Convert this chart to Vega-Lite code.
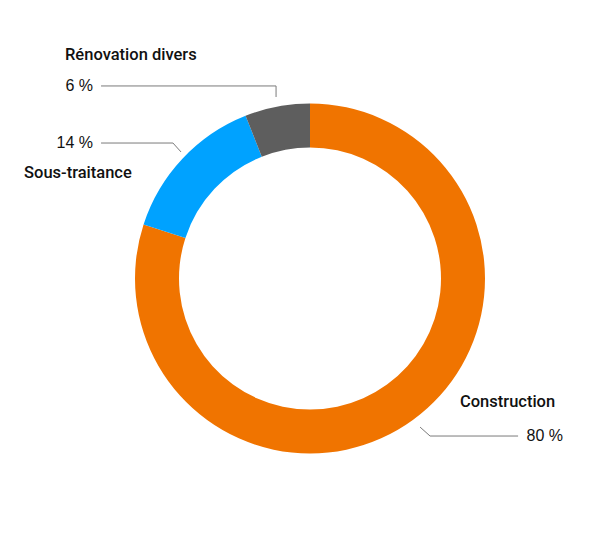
{
  "$schema": "https://vega.github.io/schema/vega-lite/v6.json",
  "width": 580,
  "height": 509,
  "padding": {"left": 20, "top": 24, "right": 0, "bottom": 0},
  "autosize": {"type": "none"},
  "background": "white",
  "config": {"view": {"stroke": null}},
  "datasets": {
    "shares": [
      {"category": "Construction", "share": 80, "rank": 1},
      {"category": "Sous-traitance", "share": 14, "rank": 2},
      {"category": "Rénovation divers", "share": 6, "rank": 3}
    ],
    "leaders": [
      {"category": "Rénovation divers", "step": 1, "x": -1.194, "y": 1.1},
      {"category": "Rénovation divers", "step": 2, "x": -0.194, "y": 1.1},
      {"category": "Rénovation divers", "step": 3, "x": -0.194, "y": 1.037},
      {"category": "Sous-traitance", "step": 1, "x": -1.194, "y": 0.774},
      {"category": "Sous-traitance", "step": 2, "x": -0.783, "y": 0.774},
      {"category": "Sous-traitance", "step": 3, "x": -0.737, "y": 0.723},
      {"category": "Construction", "step": 1, "x": 0.629, "y": -0.849},
      {"category": "Construction", "step": 2, "x": 0.686, "y": -0.9},
      {"category": "Construction", "step": 3, "x": 1.189, "y": -0.9}
    ],
    "names": [
      {"text": "Rénovation divers", "x": -1.4, "y": 1.249},
      {"text": "Sous-traitance", "x": -1.634, "y": 0.574},
      {"text": "Construction", "x": 0.857, "y": -0.734}
    ],
    "percents": [
      {"text": "6 %", "x": -1.24, "y": 1.069},
      {"text": "14 %", "x": -1.24, "y": 0.744},
      {"text": "80 %", "x": 1.446, "y": -0.929}
    ]
  },
  "layer": [
    {
      "data": {"name": "shares"},
      "mark": {"type": "arc", "outerRadius": 175, "innerRadius": 131},
      "encoding": {
        "theta": {"field": "share", "type": "quantitative", "stack": true},
        "order": {"field": "rank", "type": "quantitative"},
        "color": {
          "field": "category",
          "type": "nominal",
          "scale": {
            "domain": ["Construction", "Sous-traitance", "Rénovation divers"],
            "range": ["#F07400", "#00A2FF", "#5E5E5E"]
          },
          "legend": null
        }
      }
    },
    {
      "data": {"name": "leaders"},
      "mark": {"type": "line", "color": "#7a7a7a", "strokeWidth": 1},
      "encoding": {
        "x": {"field": "x", "type": "quantitative", "scale": {"domain": [-1.657, 1.657], "nice": false, "zero": false}, "axis": null},
        "y": {"field": "y", "type": "quantitative", "scale": {"domain": [-1.454, 1.454], "nice": false, "zero": false}, "axis": null},
        "detail": {"field": "category", "type": "nominal"},
        "order": {"field": "step", "type": "quantitative"}
      }
    },
    {
      "data": {"name": "names"},
      "mark": {"type": "text", "align": "left", "baseline": "alphabetic", "font": "Roboto", "fontSize": 16.5, "fontWeight": 500, "color": "#111111"},
      "encoding": {
        "x": {"field": "x", "type": "quantitative", "scale": {"domain": [-1.657, 1.657], "nice": false, "zero": false}, "axis": null},
        "y": {"field": "y", "type": "quantitative", "scale": {"domain": [-1.454, 1.454], "nice": false, "zero": false}, "axis": null},
        "text": {"field": "text", "type": "nominal"}
      }
    },
    {
      "data": {"name": "percents"},
      "mark": {"type": "text", "align": "right", "baseline": "alphabetic", "font": "Liberation Sans", "fontSize": 16, "color": "#111111"},
      "encoding": {
        "x": {"field": "x", "type": "quantitative", "scale": {"domain": [-1.657, 1.657], "nice": false, "zero": false}, "axis": null},
        "y": {"field": "y", "type": "quantitative", "scale": {"domain": [-1.454, 1.454], "nice": false, "zero": false}, "axis": null},
        "text": {"field": "text", "type": "nominal"}
      }
    }
  ]
}
